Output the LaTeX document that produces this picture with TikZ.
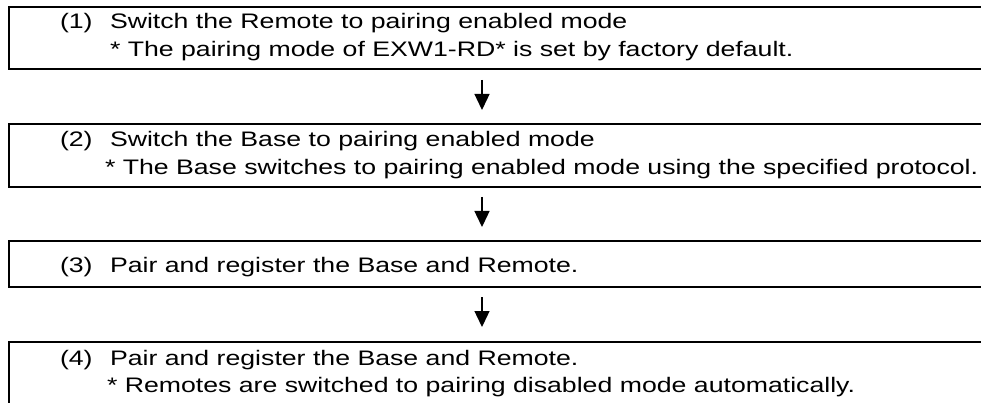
\documentclass[tikz,border=0pt]{standalone}
\usepackage{fontspec}
\setmainfont{Liberation Sans}[FakeStretch=1.27]
\usetikzlibrary{arrows.meta}
\begin{document}
\begin{tikzpicture}[x=1pt,y=-1pt,
  box/.style={draw=black, line width=2pt, rectangle, minimum width=981pt, inner sep=0pt, outer sep=0pt},
  txt/.style={anchor=base west, inner sep=0pt, outer sep=0pt, font=\fontsize{21}{24}\selectfont},
  arr/.style={line width=1.4pt, -{Triangle[width=15pt,length=16pt]}, shorten <=11pt, shorten >=14pt}]
\useasboundingbox (0,0) rectangle (981,403);
\clip (0,0) rectangle (981,403);
\node[box, minimum height=62pt] (b1) at (499.5,38) {};
\node[box, minimum height=63pt] (b2) at (499.5,155.5) {};
\node[box, minimum height=46pt] (b3) at (499.5,264) {};
\node[box, minimum height=78pt] (b4) at (499.5,381) {};
\node[txt] (n1) at (60,29) {(1)};
\node[txt] (t1a) at (110,29) {Switch the Remote to pairing enabled mode};
\node[txt] (t1b) at (110,57) {* The pairing mode of EXW1-RD* is set by factory default.};
\node[txt] (n2) at (60,147) {(2)};
\node[txt] (t2a) at (110,147) {Switch the Base to pairing enabled mode};
\node[txt] (t2b) at (105,175) {* The Base switches to pairing enabled mode using the specified protocol.};
\node[txt] (n3) at (60,272) {(3)};
\node[txt] (t3a) at (110,272) {Pair and register the Base and Remote.};
\node[txt] (n4) at (60,365) {(4)};
\node[txt] (t4a) at (110,365) {Pair and register the Base and Remote.};
\node[txt] (t4b) at (107,392) {* Remotes are switched to pairing disabled mode automatically.};
\coordinate (ax) at (482,0);
\draw[arr] (b1.south -| ax) -- (b2.north -| ax);
\draw[arr, shorten <=10pt] (b2.south -| ax) -- (b3.north -| ax);
\draw[arr, shorten <=10pt, shorten >=15pt] (b3.south -| ax) -- (b4.north -| ax);
\end{tikzpicture}
\end{document}
